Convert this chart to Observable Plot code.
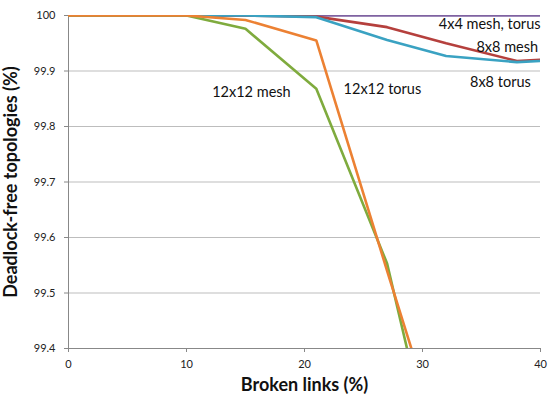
<!DOCTYPE html>
<html>
<head>
<meta charset="utf-8">
<script src="https://cdn.jsdelivr.net/npm/d3@7"></script>
<script src="https://cdn.jsdelivr.net/npm/@observablehq/plot@0.6"></script>
<style>
  html, body { margin: 0; padding: 0; background: #fff; }
  svg { display: block; }
</style>
</head>
<body>
<div id="chart"></div>
<script>
// Broken links (%)
const brokenLinks = [0, 10, 15, 21, 27, 32, 38, 40];
// Deadlock-free topologies (%) per series
const mesh4x4 =   [100, 100, 100, 100, 100, 100, 100, 100];
const mesh8x8 =   [100, 100, 100, 99.998, 99.979, 99.950, 99.918, 99.920];
const torus8x8 =  [100, 100, 100, 99.997, 99.956, 99.927, 99.916, 99.918];
const mesh12x12 = [100, 100, 99.976, 99.868, 99.553, 99.10, 98.60, 98.40];
const torus12x12 =[100, 100, 99.992, 99.955, 99.540, 99.20, 98.70, 98.50];

const seriesNames = ["4x4 mesh, torus", "8x8 mesh", "8x8 torus", "12x12 mesh", "12x12 torus"];
const seriesValues = [mesh4x4, mesh8x8, torus8x8, mesh12x12, torus12x12];
const seriesColors = ["#7f62a1", "#b5403d", "#3aa2c2", "#7fab3e", "#ec8133"];

const xTicks = [0, 10, 20, 30, 40];
const yTicks = [99.4, 99.5, 99.6, 99.7, 99.8, 99.9, 100];

// annotation anchors (data coordinates)
const endLabelText = ["4x4 mesh, torus", "8x8 mesh"];
const endLabelX =    [40, 39.8];
const endLabelY =    [99.984, 99.942];
const midLabelText = ["8x8 torus", "12x12 torus", "12x12 mesh"];
const midLabelX =    [36.6, 26.6, 15.5];
const midLabelY =    [99.879, 99.867, 99.861];

const rows = [];
seriesNames.forEach((name, i) => {
  brokenLinks.forEach((x, j) => rows.push({series: name, x, y: seriesValues[i][j]}));
});
const endLabels = endLabelText.map((t, i) => ({t, x: endLabelX[i], y: endLabelY[i]}));
const midLabels = midLabelText.map((t, i) => ({t, x: midLabelX[i], y: midLabelY[i]}));

const font = "Lato, 'Open Sans', sans-serif";

const chart = Plot.plot({
  width: 548,
  height: 394,
  marginLeft: 68,
  marginRight: 8,
  marginTop: 15,
  marginBottom: 46,
  style: {fontFamily: font, fontSize: "11px", color: "#222", background: "#fff"},
  x: {domain: [0, 40], ticks: xTicks, label: null},
  y: {domain: [99.4, 100], ticks: yTicks, label: null},
  color: {domain: seriesNames, range: seriesColors},
  marks: [
    Plot.gridY(yTicks.filter(v => v > 99.4), {stroke: "#bdbdbd", strokeOpacity: 1, strokeWidth: 1}),
    Plot.axisY({ticks: yTicks, tickSize: 4, tickPadding: 9, stroke: "#888", fill: "#222", label: null,
      tickFormat: d => (d === 100 ? "100" : d.toFixed(1))}),
    Plot.axisX({ticks: xTicks, tickSize: 4, tickPadding: 8, stroke: "#888", fill: "#222", label: null}),
    Plot.ruleX([0], {stroke: "#888"}),
    Plot.ruleY([99.4], {stroke: "#888"}),
    Plot.line(rows, {x: "x", y: "y", z: "series", stroke: "series", strokeWidth: 2.6, clip: true, strokeLinejoin: "miter"}),
    Plot.text(endLabels, {x: "x", y: "y", text: "t", textAnchor: "end", fontSize: 14.5, fill: "#111", fontFamily: font}),
    Plot.text(midLabels, {x: "x", y: "y", text: "t", textAnchor: "middle", fontSize: 14.5, fill: "#111", fontFamily: font}),
    Plot.text(["Broken links (%)"], {frameAnchor: "bottom", dy: 42, textAnchor: "middle", fontSize: 18, fontWeight: "bold", fill: "#111"}),
    Plot.text(["Deadlock-free topologies (%)"], {frameAnchor: "left", dx: -57, textAnchor: "middle", rotate: -90, fontSize: 18, fontWeight: "bold", fill: "#111"})
  ]
});
document.getElementById("chart").appendChild(chart);
</script>
</body>
</html>
